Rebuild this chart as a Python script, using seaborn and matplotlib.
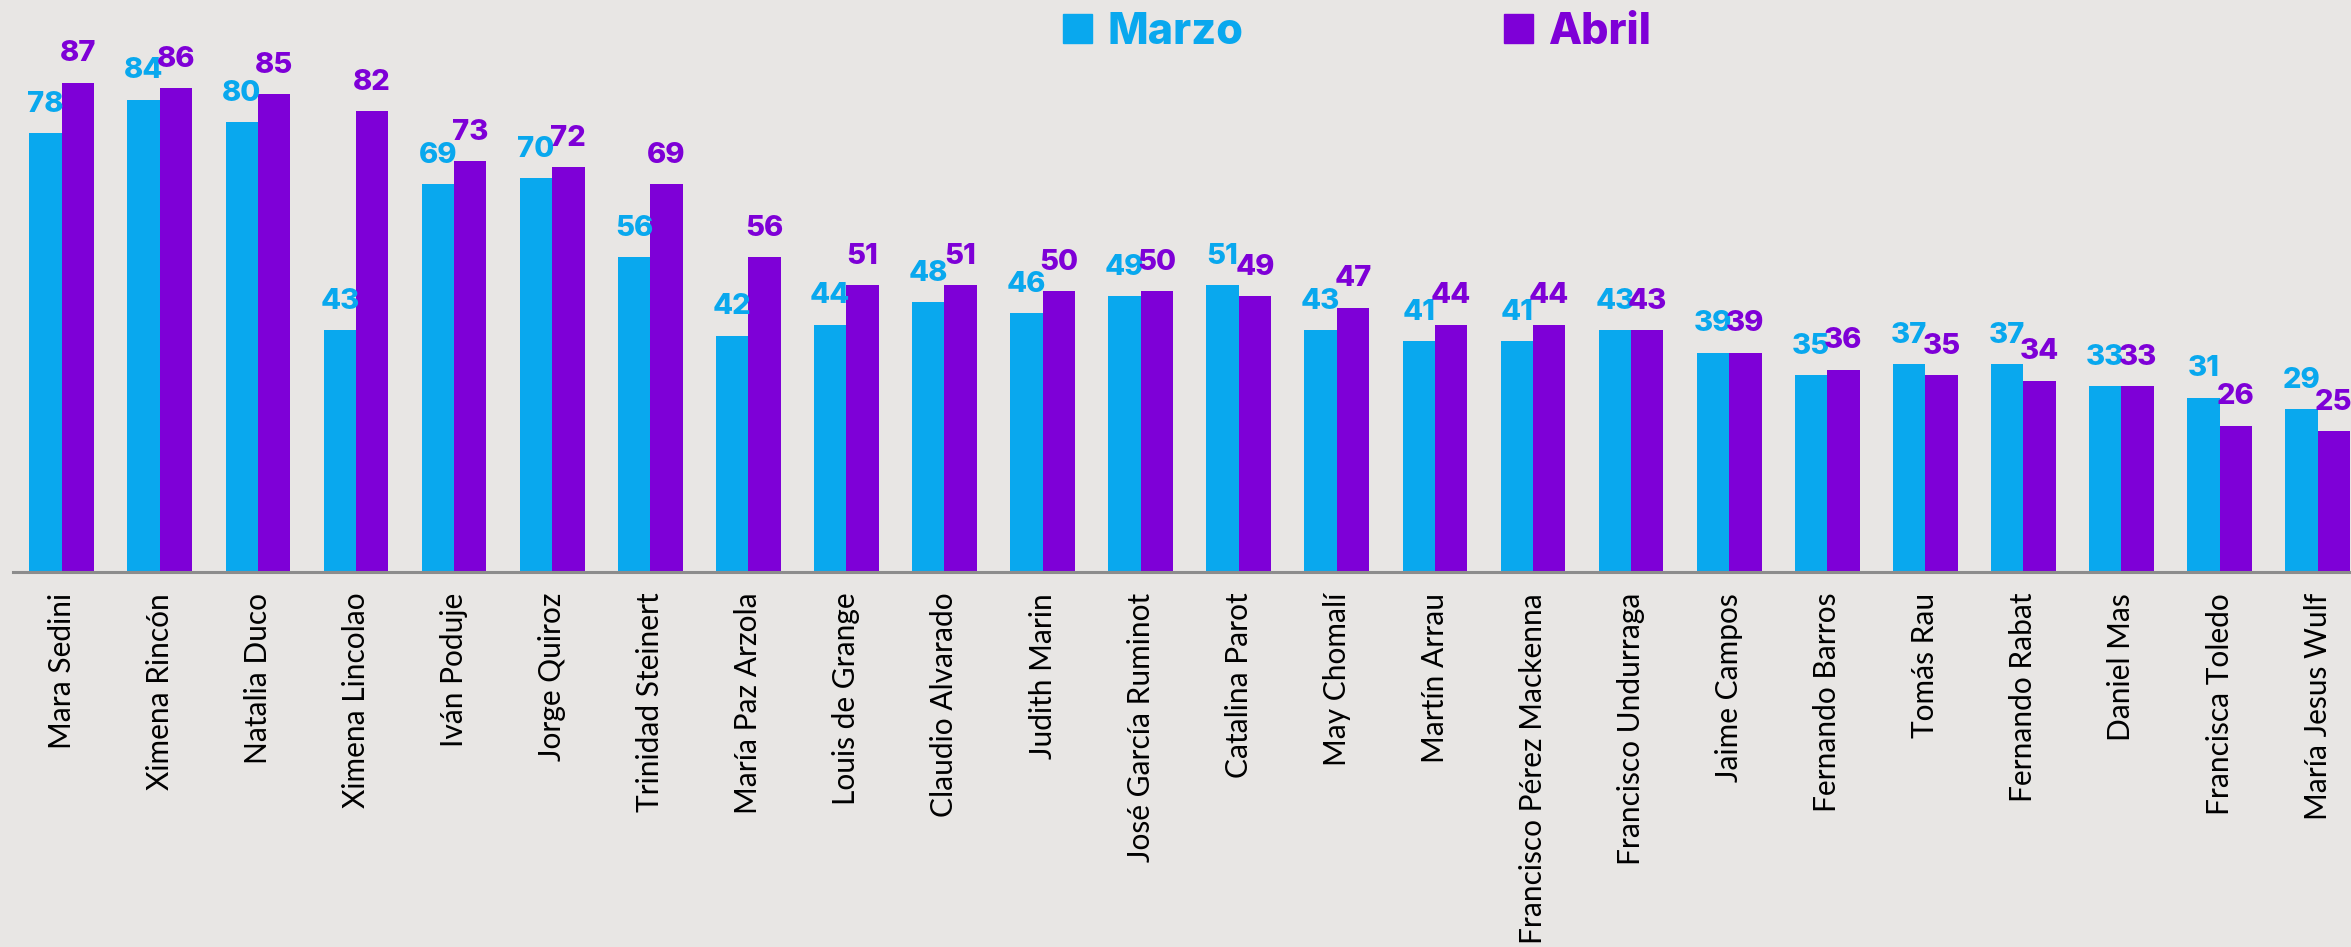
import numpy as np
import pandas as pd
import seaborn as sns
import matplotlib.pyplot as plt
from matplotlib.patches import Patch

nombres = ["Mara Sedini", "Ximena Rincón", "Natalia Duco", "Ximena Lincolao",
           "Iván Poduje", "Jorge Quiroz", "Trinidad Steinert", "María Paz Arzola",
           "Louis de Grange", "Claudio Alvarado", "Judith Marin", "José García Ruminot",
           "Catalina Parot", "May Chomalí", "Martín Arrau", "Francisco Pérez Mackenna",
           "Francisco Undurraga", "Jaime Campos", "Fernando Barros", "Tomás Rau",
           "Fernando Rabat", "Daniel Mas", "Francisca Toledo", "María Jesus Wulf"]
marzo = [78, 84, 80, 43, 69, 70, 56, 42, 44, 48, 46, 49, 51, 43, 41, 41, 43, 39, 35, 37, 37, 33, 31, 29]
abril = [87, 86, 85, 82, 73, 72, 69, 56, 51, 51, 50, 50, 49, 47, 44, 44, 43, 39, 36, 35, 34, 33, 26, 25]
meses = ["Marzo", "Abril"]

azul = "#09a8ee"
morado = "#7e00d7"
fondo = "#e8e6e4"

df = pd.DataFrame({"nombre": nombres * 2,
                   "mes": ["Marzo"] * len(nombres) + ["Abril"] * len(nombres),
                   "valor": marzo + abril})

sns.set_style("white")
plt.rcParams['font.family'] = ['Lato', 'DejaVu Sans']

fig = plt.figure(figsize=(23.51, 9.47), dpi=100, facecolor=fondo)
ax = fig.add_axes([12.7 / 2351, 375 / 947, 2354 / 2351, 572 / 947])
ax.set_facecolor(fondo)

sns.barplot(data=df, x="nombre", y="valor", hue="mes", hue_order=meses,
            palette=[azul, morado], width=0.66, saturation=1, legend=False,
            linewidth=0, ax=ax)

for cont, col in zip(ax.containers, [azul, morado]):
    ax.bar_label(cont, padding=11, color=col, fontsize=21, fontweight='heavy',
                 family=['Inter', 'DejaVu Sans'])

ax.set_xlim(-0.5, len(nombres) - 0.5)
ax.set_ylim(0, 101.7)
ax.set_xlabel("")
ax.set_ylabel("")
ax.set_yticks([])
for s in ["left", "top", "right"]:
    ax.spines[s].set_visible(False)
ax.spines["bottom"].set_color("#8c8c8c")
ax.spines["bottom"].set_linewidth(2.2)

ax.set_xticks(range(len(nombres)))
ax.set_xticklabels(nombres, rotation=90, fontsize=21.5, color="black")
ax.set_xticks(np.arange(-0.5, len(nombres), 1), minor=True)
ax.tick_params(axis='x', which='major', length=0, pad=15)
ax.tick_params(axis='x', which='minor', length=7.5, width=2, color="#8c8c8c", direction='out')

handles = [Patch(color=azul), Patch(color=morado)]
leg = fig.legend(handles, meses, loc='center', bbox_to_anchor=(0.5772, 0.966), ncol=2,
                 frameon=False, handlelength=0.674, handleheight=0.674,
                 handletextpad=0.35, columnspacing=6.05, borderpad=0,
                 prop={'family': ['Inter', 'DejaVu Sans'], 'weight': 'heavy', 'size': 31})
for t, c in zip(leg.get_texts(), [azul, morado]):
    t.set_color(c)

fig.savefig("out.png", dpi=100, facecolor=fondo)
